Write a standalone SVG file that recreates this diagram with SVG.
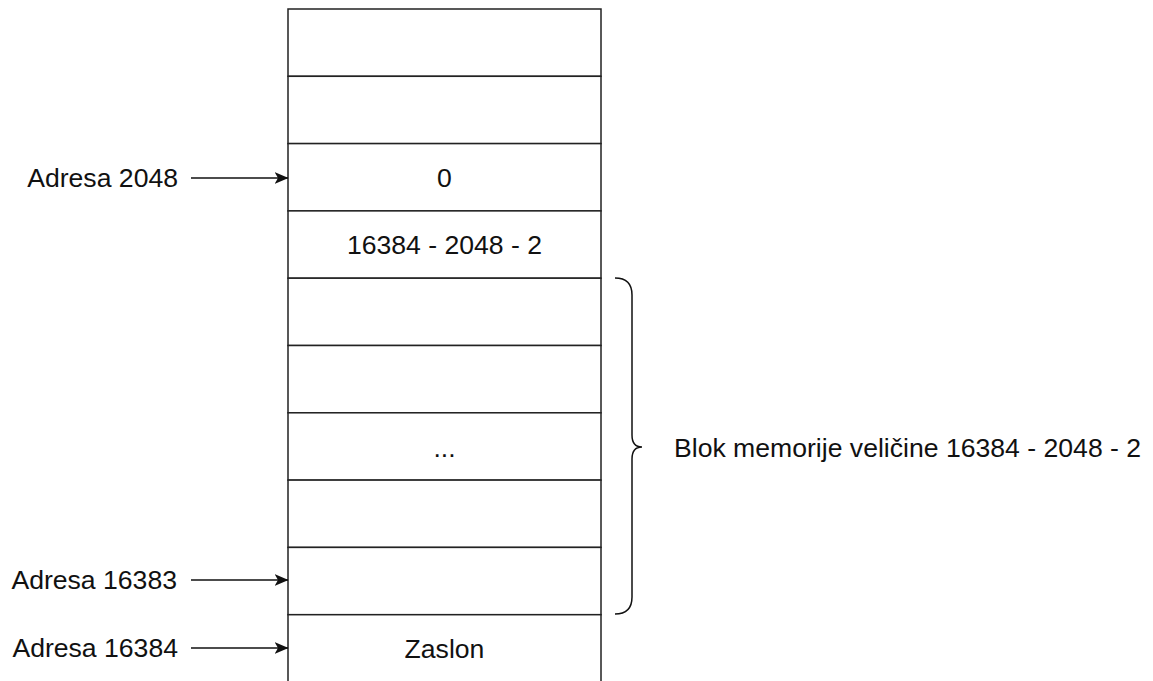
<svg xmlns="http://www.w3.org/2000/svg" width="1153" height="681" viewBox="0 0 1153 681">
<defs>
<style>
.cell{fill:#fff;stroke:#222;stroke-width:1.5}
.t{font-family:"Liberation Sans",Arial,sans-serif;font-size:26.6px;fill:#111}
.c{text-anchor:middle}
.e{text-anchor:end}
.ln{fill:none;stroke:#111;stroke-width:1.5}
</style>
<marker id="ah" viewBox="0 0 14 12" refX="13.5" refY="6" markerWidth="14" markerHeight="12" markerUnits="userSpaceOnUse" orient="auto">
<path d="M0,0 L14,6 L0,12 L3.5,6 Z" fill="#111"/>
</marker>
</defs>
<rect width="1153" height="681" fill="#fff"/>
<g id="memory">
<g id="cell1"><rect class="cell" x="288" y="9" width="313" height="67.3"/></g>
<g id="cell2"><rect class="cell" x="288" y="76.3" width="313" height="67.3"/></g>
<g id="cell3"><rect class="cell" x="288" y="143.6" width="313" height="67.3"/><text class="t c" x="444.5" y="187">0</text></g>
<g id="cell4"><rect class="cell" x="288" y="210.9" width="313" height="67.3"/><text class="t c" x="444.5" y="254">16384 - 2048 - 2</text></g>
<g id="cell5"><rect class="cell" x="288" y="278.2" width="313" height="67.3"/></g>
<g id="cell6"><rect class="cell" x="288" y="345.5" width="313" height="67.3"/></g>
<g id="cell7"><rect class="cell" x="288" y="412.8" width="313" height="67.3"/><text class="t c" x="444.5" y="457">...</text></g>
<g id="cell8"><rect class="cell" x="288" y="480.1" width="313" height="67.3"/></g>
<g id="cell9"><rect class="cell" x="288" y="547.4" width="313" height="67.3"/></g>
<g id="cell10"><rect class="cell" x="288" y="614.7" width="313" height="80"/><text class="t c" x="444.5" y="658">Zaslon</text></g>
</g>
<g id="labels">
<g id="lbl2048"><text class="t e" x="178" y="187">Adresa 2048</text></g>
<g id="lbl16383"><text class="t e" x="177" y="589">Adresa 16383</text></g>
<g id="lbl16384"><text class="t e" x="178" y="657">Adresa 16384</text></g>
<g id="lblblock"><text class="t" x="674" y="457">Blok memorije veličine 16384 - 2048 - 2</text></g>
</g>
<g id="connectors">
<line class="ln" x1="191" y1="178" x2="288" y2="178" marker-end="url(#ah)"/>
<line class="ln" x1="191" y1="580" x2="288" y2="580" marker-end="url(#ah)"/>
<line class="ln" x1="191" y1="648" x2="288" y2="648" marker-end="url(#ah)"/>
<path class="ln" d="M615,278 Q632,278 632,295 L632,435 Q632,447 642,447 Q632,447 632,459 L632,597 Q632,614 615,614"/>
</g>
</svg>
